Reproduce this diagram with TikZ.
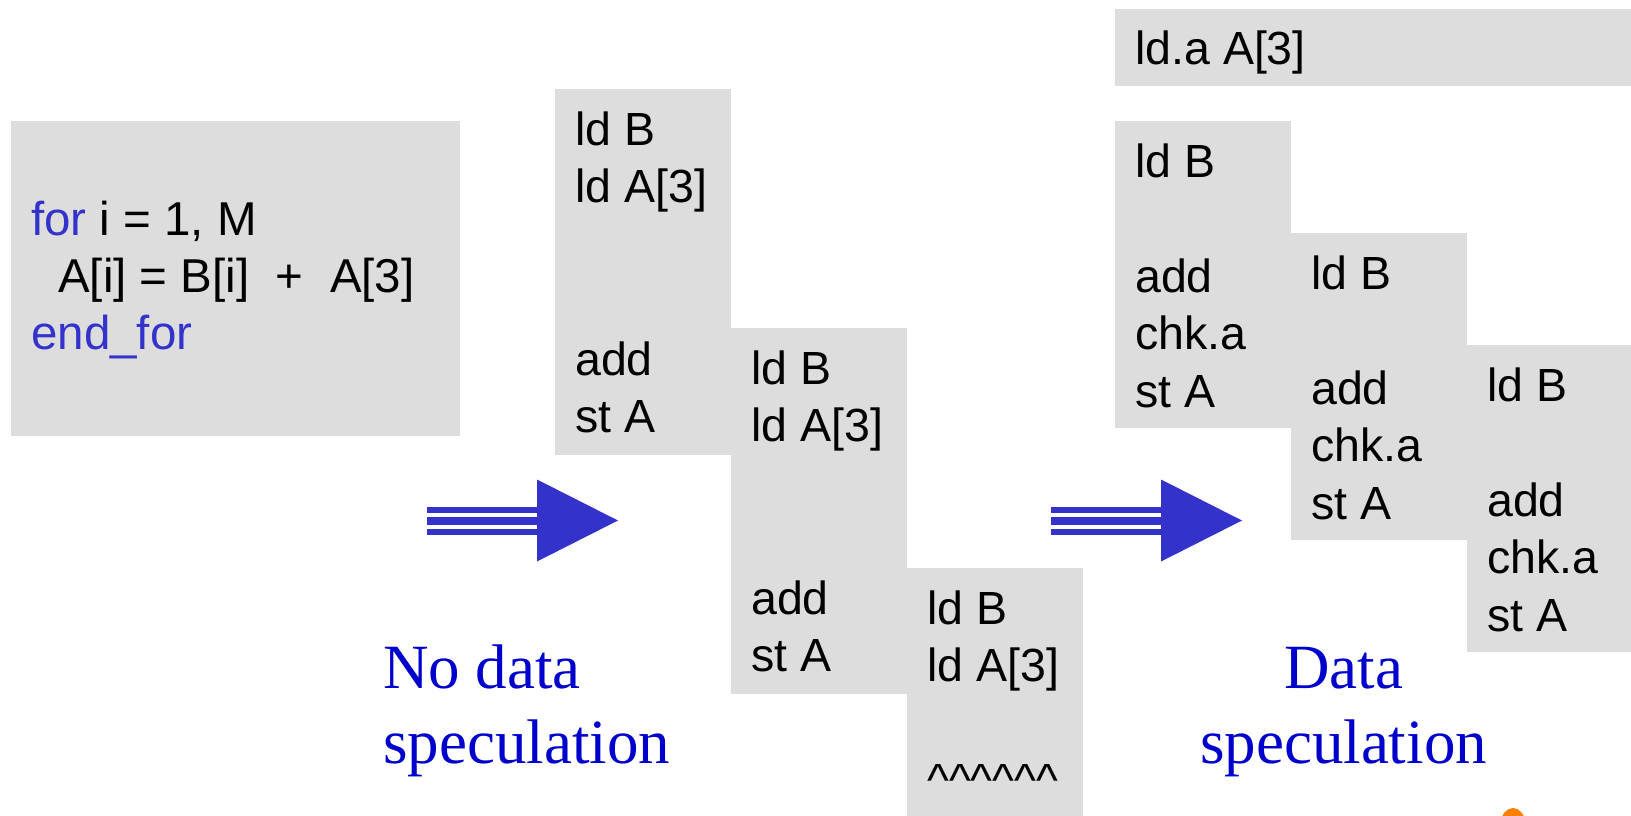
\documentclass[tikz,border=0pt]{standalone}
\usepackage{fontspec}
\setmainfont{Liberation Serif}
\newfontfamily\codefont{Liberation Sans}
\definecolor{slabgrey}{HTML}{DDDDDD}
\definecolor{kwblue}{HTML}{3333CC}
\definecolor{capblue}{HTML}{0000CC}
\definecolor{logoorange}{HTML}{FF7F00}
\newcommand{\carets}{\textasciicircum\textasciicircum\textasciicircum\textasciicircum\textasciicircum\textasciicircum}

\begin{document}
\begin{tikzpicture}[x=1pt,y=-1pt,
  slab/.style={fill=slabgrey, draw=none, inner sep=0pt, outer sep=0pt, anchor=north west},
  iter/.style={slab, minimum width=176pt, minimum height=366pt},
  specter/.style={slab, minimum width=176pt, minimum height=307pt},
  codeline/.style={anchor=base west, inner sep=0pt, font=\codefont\fontsize{46.5}{56}\selectfont},
  srcline/.style={anchor=base west, inner sep=0pt, font=\codefont\fontsize{47.5}{57}\selectfont},
  caption/.style={inner sep=0pt, text=capblue, font=\fontsize{63}{75}\selectfont},
  flow/.style={draw=kwblue, line cap=butt},
  flowhead/.style={fill=kwblue, draw=none}]

\useasboundingbox (0,0) rectangle (1631,816);
\clip (0,0) rectangle (1631,816);

% source loop
\node[slab, minimum width=449pt, minimum height=315pt] (src) at (11,121) {};
\node[srcline] (src-1) at (31,235) {\textcolor{kwblue}{for}\ i = 1, M};
\node[srcline] (src-2) at (58,292) {A[i] = B[i]\ \ +\ \ A[3]};
\node[srcline, text=kwblue] (src-3) at (31,349) {end\_for};

% schedule without data speculation
\node[iter] (m1) at (555,89) {};
\node[iter] (m2) at (731,328) {};
\node[iter] (m3) at (907,568) {};
\foreach \b/\x/\y in {m1/575/145, m2/751/384}
  \foreach \k/\t in {0/ld B, 1/ld A[3], 4/add, 5/st A}
    \node[codeline] (\b-\k) at ({\x},{\y+57.5*\k}) {\t};
\node[codeline] (m3-0) at (927,624) {ld B};
\node[codeline] (m3-1) at (927,681.5) {ld A[3]};
\node[codeline] (m3-3) at (927,796.5) {\carets};

% schedule with data speculation
\node[slab, minimum width=540pt, minimum height=77pt] (adv) at (1115,9) {};
\node[codeline] (adv-0) at (1135,65) {ld.a A[3]};
\node[specter] (s1) at (1115,121) {};
\node[specter] (s2) at (1291,233) {};
\node[specter] (s3) at (1467,345) {};
\foreach \b/\x/\y in {s1/1135/177, s2/1311/289, s3/1487/401}
  \foreach \k/\t in {0/ld B, 2/add, 3/chk.a, 4/st A}
    \node[codeline] (\b-\k) at ({\x},{\y+57.5*\k}) {\t};

% transformation arrows
\foreach \n/\x in {1/427, 2/1051} {
  \coordinate (tail\n) at (\x,520.5);
  \coordinate (neck\n) at ({\x+110},520.5);
  \coordinate (tip\n) at ({\x+191},520.5);
  \draw[flow, line width=6pt] ([yshift=11pt]tail\n) -- ([yshift=11pt]neck\n);
  \draw[flow, line width=8pt] (tail\n) -- (neck\n);
  \draw[flow, line width=6pt] ([yshift=-11pt]tail\n) -- ([yshift=-11pt]neck\n);
  \fill[flowhead] ([yshift=41pt]neck\n) -- (tip\n) -- ([yshift=-41pt]neck\n) -- cycle;
}

% captions
\node[caption, anchor=base west] (cap1a) at (383,688) {No data};
\node[caption, anchor=base west] (cap1b) at (383,763) {speculation};
\node[caption, anchor=base] (cap2a) at (1343.5,688) {Data};
\node[caption, anchor=base] (cap2b) at (1343.5,763) {speculation};

% corner logo
\fill[logoorange] (1513,823) ellipse [x radius=12pt, y radius=15pt];
\end{tikzpicture}
\end{document}
